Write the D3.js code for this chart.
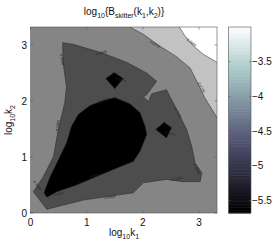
<!DOCTYPE html>
<html><head><meta charset="utf-8">
<script src="https://cdn.jsdelivr.net/npm/d3@7"></script>
<style>body{margin:0;background:#fff}svg{display:block}text{font-family:"Liberation Sans",Arial,sans-serif}</style>
</head><body>
<script>
// ---- data (log10 k1, log10 k2) ----
const axisTicks = [0, 1, 2, 3];
const cbarTicks = [-3.5, -4, -4.5, -5, -5.5];
const cbarRange = [-5.68, -3.0];
const levelColors = ["#000000", "#4d4d4d", "#858585", "#c2c2c2", "#ffffff"];
const lightRegion = [[1.71,3.4],[1.71,3.35],[2.01,3.19],[2.30,2.98],[2.60,2.79],[2.84,2.59],[2.96,2.35],[3.10,2.06],[3.34,1.67],[3.4,1.67],[3.4,3.4]];
const whiteRegion = [[2.63,3.4],[2.63,3.35],[2.75,3.16],[2.90,2.98],[3.08,2.83],[3.34,2.68],[3.4,2.68],[3.4,3.4]];
const darkRegion = [[0.572,3.04],[0.762,3.01],[1.267,2.86],[1.711,2.69],[2.067,2.50],[2.245,2.35],[2.067,2.11],[2.01,2.07],[2.10,1.99],[2.16,2.13],[2.42,2.20],[2.60,1.85],[2.78,1.49],[2.87,1.19],[2.93,0.89],[3.05,0.72],[3.02,0.56],[2.71,0.56],[2.42,0.60],[2.01,0.54],[1.83,0.36],[0.94,0.23],[0.29,0.066],[0.05,0.38],[0.23,0.65],[0.41,1.01],[0.495,1.49],[0.61,1.97],[0.64,2.26],[0.58,2.68]];
const blackRegion = [[1.50,2.06],[1.77,1.95],[1.95,1.79],[2.04,1.55],[2.07,1.40],[1.95,1.10],[1.83,0.92],[1.53,0.80],[1.24,0.68],[0.82,0.50],[0.47,0.38],[0.29,0.28],[0.24,0.36],[0.35,0.65],[0.525,1.01],[0.64,1.25],[0.73,1.55],[0.85,1.76],[1.06,1.92],[1.30,2.01]];
const diamond1 = [[1.34,2.40],[1.49,2.51],[1.65,2.40],[1.50,2.22]];
const diamond2 = [[2.23,1.49],[2.38,1.62],[2.51,1.52],[2.42,1.34]];
const contourLabels = [
  {t:"-3.0069", p:[2.86,3.05], a:38},
  {t:"-3.6739", p:[2.20,3.02], a:30},
  {t:"-3.6739", p:[3.04,2.25], a:60},
  {t:"-4.3408", p:[1.25,2.86], a:-15},
  {t:"-4.3408", p:[0.56,2.75], a:80},
  {t:"-4.3408", p:[0.48,1.55], a:-80},
  {t:"-4.3408", p:[2.62,1.80], a:62},
  {t:"-4.3408", p:[2.96,0.80], a:65},
  {t:"-4.3408", p:[2.60,0.61], a:-10},
  {t:"-4.3408", p:[1.40,0.28], a:-8},
  {t:"-4.3408", p:[0.12,0.50], a:55},
  {t:"-5.0077", p:[1.15,0.66], a:-15},
  {t:"-5.0077", p:[0.50,0.34], a:-10},
  {t:"-5.0077", p:[1.30,2.00], a:-20},
  {t:"-5.0077", p:[1.60,2.38], a:20},
  {t:"-5.0077", p:[2.48,1.42], a:20}
];

const W = 277, H = 244;
const svg = d3.select("body").append("svg").attr("width", W).attr("height", H);
const x = d3.scaleLinear().domain([0, 3.32]).range([30.5, 217]);
const y = d3.scaleLinear().domain([0, 3.32]).range([213, 27]);

svg.append("clipPath").attr("id","pc").append("rect")
  .attr("x", x(0)).attr("y", y(3.32)).attr("width", x(3.32)-x(0)).attr("height", y(0)-y(3.32));

const g = svg.append("g").attr("clip-path","url(#pc)");
g.append("rect").attr("x", x(0)).attr("y", y(3.32)).attr("width", x(3.32)-x(0)).attr("height", y(0)-y(3.32)).attr("fill", levelColors[2]);
const line = d3.line().x(d=>x(d[0])).y(d=>y(d[1])).curve(d3.curveLinearClosed);
const regions = [
  {d: lightRegion, c: levelColors[3]},
  {d: whiteRegion, c: levelColors[4]},
  {d: darkRegion, c: levelColors[1]},
  {d: blackRegion, c: levelColors[0]},
  {d: diamond1, c: levelColors[0]},
  {d: diamond2, c: levelColors[0]}
];
g.selectAll("path.reg").data(regions).join("path").attr("class","reg")
  .attr("d", r=>line(r.d)).attr("fill", r=>r.c).attr("stroke", "#222").attr("stroke-width", 0.5);

g.selectAll("text.cl").data(contourLabels).join("text").attr("class","cl")
  .attr("transform", d=>`translate(${x(d.p[0])},${y(d.p[1])}) rotate(${d.a})`)
  .attr("text-anchor","middle").attr("dy","0.35em").attr("font-size", 3.6).attr("fill","#222").text(d=>d.t);

// axes box
svg.append("rect").attr("x", x(0)).attr("y", y(3.32)).attr("width", x(3.32)-x(0)).attr("height", y(0)-y(3.32))
  .attr("fill","none").attr("stroke","#555").attr("stroke-width",0.6);
const tk = 2.5;
axisTicks.forEach(v=>{
  svg.append("line").attr("x1",x(v)).attr("x2",x(v)).attr("y1",y(0)).attr("y2",y(0)-tk).attr("stroke","#555").attr("stroke-width",0.6);
  svg.append("line").attr("x1",x(v)).attr("x2",x(v)).attr("y1",y(3.32)).attr("y2",y(3.32)+tk).attr("stroke","#555").attr("stroke-width",0.6);
  svg.append("line").attr("y1",y(v)).attr("y2",y(v)).attr("x1",x(0)).attr("x2",x(0)+tk).attr("stroke","#555").attr("stroke-width",0.6);
  svg.append("line").attr("y1",y(v)).attr("y2",y(v)).attr("x1",x(3.32)).attr("x2",x(3.32)-tk).attr("stroke","#555").attr("stroke-width",0.6);
});
svg.selectAll("text.xt").data(axisTicks).join("text").attr("class","xt")
  .attr("x", d=>x(d)).attr("y", 226).attr("text-anchor","middle").attr("font-size",10).attr("fill","#111").text(d=>d);
svg.selectAll("text.yt").data(axisTicks).join("text").attr("class","yt")
  .attr("x", 27).attr("y", d=>y(d)+3.6).attr("text-anchor","end").attr("font-size",10).attr("fill","#111").text(d=>d);

// title
const title = svg.append("text").attr("x", 124).attr("y", 15).attr("text-anchor","middle").attr("font-size",10).attr("fill","#111");
[["log",0],["10",1],["{B",0],["skitter",1],["(k",0],["1",1],[",k",0],["2",1],[")}",0]].forEach(([s,sub],i,arr)=>{
  const ts = title.append("tspan").text(s);
  if (sub) ts.attr("font-size",7).attr("dy",2.5);
  else if (i>0 && arr[i-1][1]) ts.attr("dy",-2.5);
});
// x label
const xl = svg.append("text").attr("x", 124).attr("y", 236).attr("text-anchor","middle").attr("font-size",10).attr("fill","#111");
xl.append("tspan").text("log"); xl.append("tspan").text("10").attr("font-size",7).attr("dy",2.5);
xl.append("tspan").text("k").attr("dy",-2.5); xl.append("tspan").text("1").attr("font-size",7).attr("dy",2.5);
// y label
const yl = svg.append("text").attr("transform","translate(12,120) rotate(-90)").attr("text-anchor","middle").attr("font-size",10).attr("fill","#111");
yl.append("tspan").text("log"); yl.append("tspan").text("10").attr("font-size",7).attr("dy",2.5);
yl.append("tspan").text("k").attr("dy",-2.5); yl.append("tspan").text("2").attr("font-size",7).attr("dy",2.5);

// colorbar (bone colormap)
const bone = d3.scaleLinear().domain([0, 0.375, 0.75, 1])
  .range(["#000001", "#515171", "#a6c6c6", "#ffffff"]).interpolate(d3.interpolateRgb);
const cy = d3.scaleLinear().domain(cbarRange).range([213, 27]);
const cx0 = 228.5, cx1 = 251;
const nC = 64;
const cells = d3.range(nC).map(i => cbarRange[0] + (cbarRange[1]-cbarRange[0]) * i / nC);
const step = (cbarRange[1]-cbarRange[0]) / nC;
svg.selectAll("rect.cb").data(cells).join("rect").attr("class","cb")
  .attr("x", cx0).attr("width", cx1-cx0)
  .attr("y", d=>cy(d+step)).attr("height", d=>cy(d)-cy(d+step)+0.5)
  .attr("fill", d=>bone((d-cbarRange[0])/(cbarRange[1]-cbarRange[0])));
svg.append("rect").attr("x",cx0).attr("y",cy(cbarRange[1])).attr("width",cx1-cx0).attr("height",cy(cbarRange[0])-cy(cbarRange[1]))
  .attr("fill","none").attr("stroke","#555").attr("stroke-width",0.6);
cbarTicks.forEach(v=>{
  svg.append("line").attr("x1",cx0).attr("x2",cx0+2).attr("y1",cy(v)).attr("y2",cy(v)).attr("stroke","#555").attr("stroke-width",0.6);
  svg.append("line").attr("x1",cx1).attr("x2",cx1-2).attr("y1",cy(v)).attr("y2",cy(v)).attr("stroke","#555").attr("stroke-width",0.6);
});
svg.selectAll("text.ct").data(cbarTicks).join("text").attr("class","ct")
  .attr("x", 252).attr("y", d=>cy(d)+3.6).attr("font-size",10).attr("fill","#111")
  .text(d=>String(d).replace("-","\u2212"));
</script>
</body></html>
